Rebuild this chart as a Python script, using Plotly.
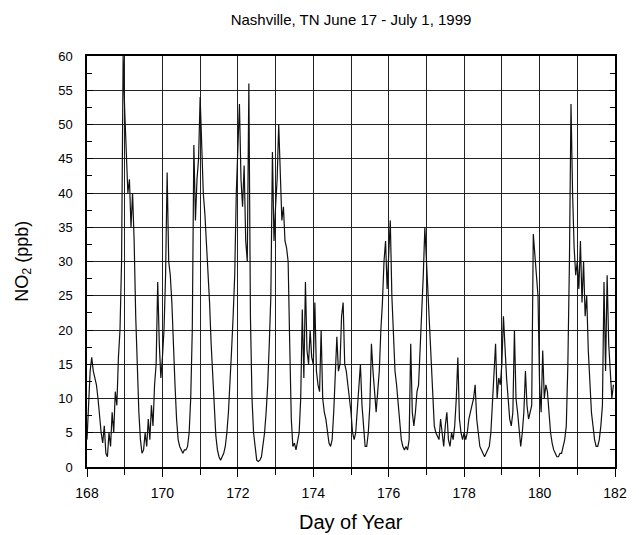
import plotly.graph_objects as go

# Hourly NO2 (ppb), hour 0..23 of each day of year
no2_168 = [4, 10, 14, 16, 14, 13, 12, 10, 7, 5, 3.5, 6, 2, 1.5, 5, 3, 8, 5, 11, 9, 16, 20, 30, 60]
no2_169 = [52, 45, 40, 42, 35, 40, 33, 22, 13, 8, 4, 2, 2.5, 5, 3, 7, 4, 9, 6, 12, 15, 27, 18, 13]
no2_170 = [16, 20, 28, 43, 30, 28, 24, 17, 12, 7, 4, 3, 2.5, 2, 2.5, 2.5, 3, 5, 10, 20, 47, 36, 42, 45]
no2_171 = [54, 47, 40, 37, 33, 28, 24, 18, 13, 8, 4.5, 2.5, 1.5, 1, 1.5, 2, 3, 5, 8, 12, 17, 22, 28, 40]
no2_172 = [48, 53, 42, 38, 44, 33, 30, 56, 22, 10, 5, 2.5, 1, 0.8, 1, 1.5, 3, 5, 8, 12, 18, 25, 46, 33]
no2_173 = [38, 42, 50, 42, 36, 38, 33, 32, 30, 18, 7, 3, 3.5, 2.5, 4, 5, 10, 23, 13, 27, 17, 15, 20, 16]
no2_174 = [15, 24, 14, 12, 11, 20, 10, 8, 7, 5, 3.5, 3, 4, 8, 13, 19, 14, 15, 22, 24, 15, 14, 12, 10]
no2_175 = [8, 5, 4, 5, 8, 11, 15, 9, 6, 3, 3, 5, 9, 18, 14, 11, 8, 11, 14, 20, 24, 30, 33, 26]
no2_176 = [32, 36, 25, 18, 14, 12, 9, 6, 4, 3, 2.5, 3, 2.5, 4, 18, 8, 6, 8, 11, 12, 17, 22, 28, 35]
no2_177 = [30, 25, 20, 15, 10, 6, 5, 4.5, 4, 7, 5, 3, 6, 8, 4, 3, 5, 4, 6, 10, 16, 7, 5, 4]
no2_178 = [5, 4, 5, 7, 8, 9, 10, 12, 7, 5, 3, 2.5, 2, 1.5, 2, 2.5, 3, 5, 9, 13, 18, 10, 13, 12]
no2_179 = [15, 22, 17, 13, 10, 7, 6, 8, 20, 10, 8, 5, 3, 5, 8, 14, 9, 7, 8, 9, 34, 31, 28, 25]
no2_180 = [12, 8, 17, 10, 12, 11, 8, 5, 3.5, 2.5, 2, 1.5, 1.5, 2, 2, 3, 4, 6, 15, 30, 53, 40, 32, 28]
no2_181 = [30, 26, 33, 24, 30, 22, 25, 17, 12, 8, 6, 4, 3, 3, 4, 6, 9, 27, 14, 28, 18, 14, 10, 12]

days = list(range(168, 182))
daily = [no2_168, no2_169, no2_170, no2_171, no2_172, no2_173, no2_174,
         no2_175, no2_176, no2_177, no2_178, no2_179, no2_180, no2_181]

x_tick_vals = list(range(168, 183, 2))
y_tick_vals = list(range(0, 61, 5))

t, v = [], []
for d, vals in zip(days, daily):
    for h, val in enumerate(vals):
        t.append(d + h / 24.0)
        v.append(val)

fig = go.Figure()
fig.add_trace(go.Scatter(x=t, y=v, mode="lines",
                         line=dict(color="#111111", width=1.2),
                         showlegend=False, hoverinfo="skip"))

font_family = "Liberation Sans, Arial, Helvetica, sans-serif"
grid_col = "#222222"

fig.update_layout(
    width=639, height=535,
    margin=dict(l=87, r=14, t=56, b=68),
    paper_bgcolor="white", plot_bgcolor="white",
    font=dict(family=font_family, color="black", size=13),
    title=dict(text="Nashville, TN June 17 - July 1, 1999",
               x=0.5, xref="paper", y=1 - 20 / 535, yanchor="middle",
               font=dict(size=15, family=font_family, color="black")),
    xaxis=dict(range=[168, 182], tickvals=x_tick_vals,
               ticktext=[str(x) for x in x_tick_vals],
               showgrid=True, gridcolor=grid_col, gridwidth=1,
               ticks="outside", ticklen=8, tickwidth=1, tickcolor="black",
               minor=dict(dtick=1, tick0=168, showgrid=True, gridcolor=grid_col,
                          gridwidth=1, ticks="outside", ticklen=6, tickcolor="black"),
               showline=True, linecolor="black", linewidth=1.5, mirror=True,
               zeroline=False, tickfont=dict(size=14), ticklabelstandoff=4),
    yaxis=dict(range=[0, 60], tickvals=y_tick_vals,
               ticktext=[str(y) for y in y_tick_vals],
               showgrid=True, gridcolor=grid_col, gridwidth=1,
               ticks="inside", ticklen=6, tickwidth=1, tickcolor="black",
               minor=dict(dtick=2.5, tick0=0, ticks="inside", ticklen=5,
                          tickcolor="black", showgrid=False),
               showline=True, linecolor="black", linewidth=1.5, mirror="allticks",
               zeroline=False, tickfont=dict(size=13), ticklabelstandoff=10),
    annotations=[
        dict(text="NO<sub>2</sub> (ppb)", xref="paper", yref="paper",
             x=(22 - 87) / 538, y=0.5, xanchor="center", yanchor="middle",
             textangle=-90, showarrow=False, font=dict(size=18)),
        dict(text="Day of Year", xref="paper", yref="paper",
             x=0.5, y=-(522 - 467) / 411, xanchor="center", yanchor="middle",
             showarrow=False, font=dict(size=20)),
    ],
)

fig.write_html("out.html")
